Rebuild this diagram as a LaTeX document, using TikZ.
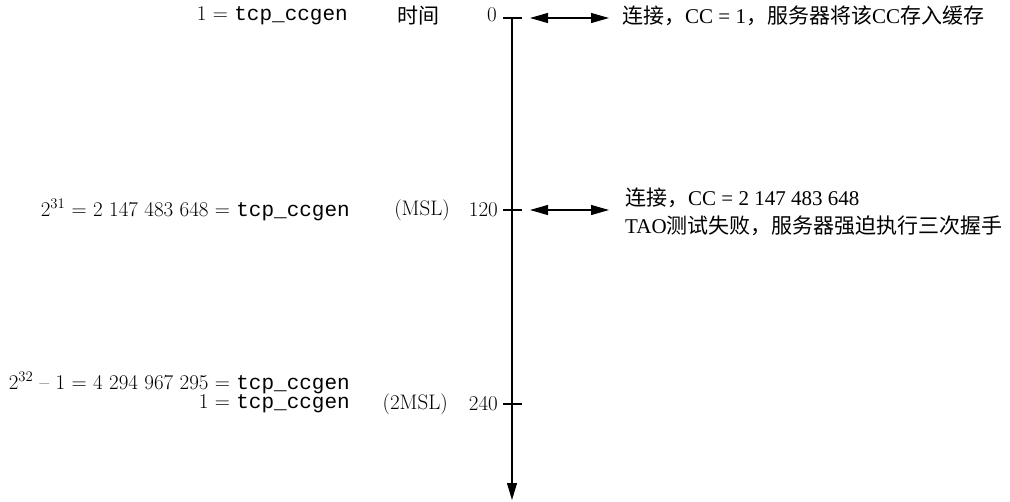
\documentclass[tikz,border=0pt]{standalone}
\usepackage{fontspec}
\setmonofont{Liberation Mono}
\newfontfamily\cjk{Noto Sans CJK SC}
\newfontfamily\tms{Liberation Serif}
\usetikzlibrary{arrows.meta}
\begin{document}
\begin{tikzpicture}[x=1pt,y=-1pt,
  lbl/.style={inner sep=0pt,font=\fontsize{21}{24}\selectfont},
  rlbl/.style={inner sep=0pt,anchor=west,font=\fontsize{21}{24}\selectfont},
  tickline/.style={line width=1.1pt},
  axisline/.style={line width=1.1pt,-{Triangle[length=17pt,width=10pt]}},
  dbl/.style={line width=1.1pt,{Triangle[length=18pt,width=10pt]}-{Triangle[length=18pt,width=10pt]}}]
\useasboundingbox (0,0) rectangle (1010,501);
% axis
\coordinate (top) at (512,18);
\coordinate (bot) at (512,500);
\draw[axisline] (top) -- (bot);
% ticks
\coordinate (k0l) at (503,18);  \coordinate (k0r) at (522,18);
\coordinate (k1l) at (503,210); \coordinate (k1r) at (522,210);
\coordinate (k2l) at (503,404); \coordinate (k2r) at (522,404);
\draw[tickline] (k0l) -- (k0r);
\draw[tickline] (k1l) -- (k1r);
\draw[tickline] (k2l) -- (k2r);
% tick labels
\node[lbl,anchor=east] (t0) at (497,15) {0};
\node[lbl,anchor=east] (t120) at (498,210) {120};
\node[lbl,anchor=east] (t240) at (498,404) {240};
\node[lbl] (time) at (418,16) {\cjk 时间};
\node[lbl,anchor=east] (msl) at (450,210) {(MSL)};
\node[lbl,anchor=east] (msl2) at (448,404) {(2MSL)};
% left texts
\node[lbl,anchor=east] (g0) at (348,16) {1 = \texttt{tcp\_ccgen}};
\node[lbl,anchor=east] (g1) at (350,210) {2\textsuperscript{31} = 2 147 483 648 = \texttt{tcp\_ccgen}};
\node[lbl,anchor=east] (g2) at (350,383) {2\textsuperscript{32} – 1 = 4 294 967 295 = \texttt{tcp\_ccgen}};
\node[lbl,anchor=east] (g3) at (350,404) {1 = \texttt{tcp\_ccgen}};
% double arrows
\coordinate (a0l) at (530,18);  \coordinate (a0r) at (609,18);
\coordinate (a1l) at (530,210); \coordinate (a1r) at (609,210);
\draw[dbl] (a0l) -- (a0r);
\draw[dbl] (a1l) -- (a1r);
% right texts
\node[rlbl] (r0) at (622,16) {{\cjk 连接，}{\tms CC = 1}{\cjk ，服务器将该}{\tms CC}{\cjk 存入缓存}};
\node[rlbl] (r1) at (625,198) {{\cjk 连接，}{\tms CC = 2 147 483 648}};
\node[rlbl] (r2) at (625,226) {{\tms TAO}{\cjk 测试失败，服务器强迫执行三次握手}};
\end{tikzpicture}
\end{document}
